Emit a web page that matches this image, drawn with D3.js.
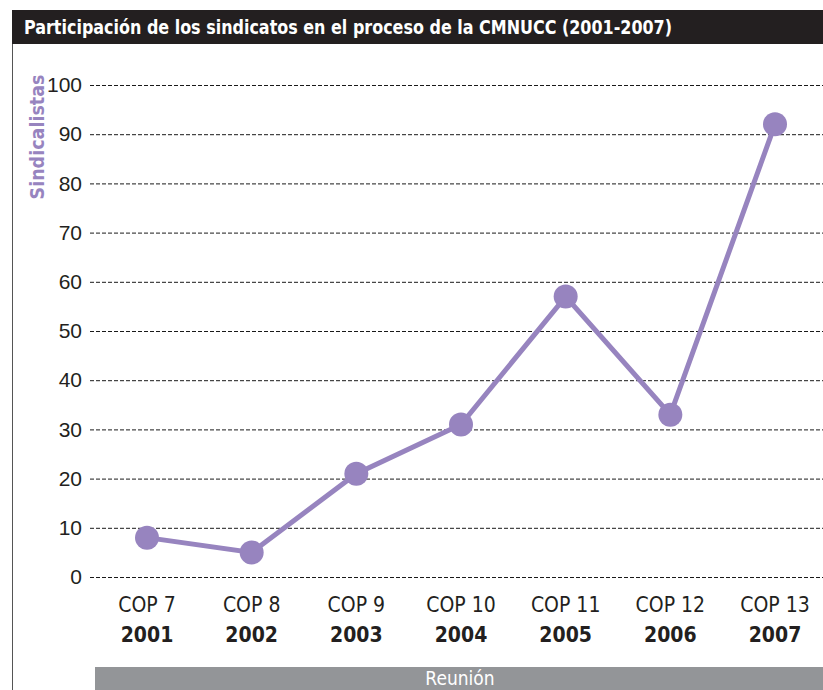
<!DOCTYPE html>
<html><head><meta charset="utf-8">
<script src="https://cdn.jsdelivr.net/npm/d3@7"></script>
<style>
body{margin:0;background:#fff;}
svg{display:block;}
.cond{font-family:"Liberation Sans Narrow","DejaVu Sans Condensed","Roboto Condensed","DejaVu Sans",sans-serif;font-stretch:condensed;}
</style></head>
<body>
<svg id="chart" width="823" height="690" class="cond"></svg>
<script>
const cops = ["COP 7","COP 8","COP 9","COP 10","COP 11","COP 12","COP 13"];
const years = ["2001","2002","2003","2004","2005","2006","2007"];
const sindicalistas = [8, 5, 21, 31, 57, 33, 92];
const yTicks = [0,10,20,30,40,50,60,70,80,90,100];
const title = "Participación de los sindicatos en el proceso de la CMNUCC (2001-2007)";
const yTitle = "Sindicalistas";
const xTitle = "Reunión";

const svg = d3.select("#chart");
const purple = "#9784bf";

// frame
svg.append("rect").attr("x",12).attr("y",10).attr("width",811).attr("height",34).attr("fill","#231f20");
svg.append("text").attr("x",24).attr("y",34).attr("fill","#fff").attr("font-size",19).attr("font-weight","bold")
  .attr("textLength",648).attr("lengthAdjust","spacingAndGlyphs").text(title);
svg.append("line").attr("x1",12.5).attr("x2",12.5).attr("y1",44).attr("y2",690).attr("stroke","#555").attr("stroke-width",1);

const x = d3.scalePoint().domain(cops).range([147,775]);
const y = d3.scaleLinear().domain([0,100]).range([577,85]);

// grid + y labels
const yAxis = d3.axisLeft(y).tickValues(yTicks).tickSize(-733).tickPadding(8);
const gy = svg.append("g").attr("transform","translate(90,0)").call(yAxis);
gy.select(".domain").remove();
gy.selectAll(".tick line").attr("stroke","#1a1a1a").attr("stroke-dasharray","4,2").attr("stroke-width",1);
gy.selectAll(".tick text").attr("font-size",21).attr("fill","#231f20").attr("font-family",null);

// y title
svg.append("text").attr("transform","translate(44,137) rotate(-90)").attr("text-anchor","middle")
  .attr("fill",purple).attr("font-size",20).attr("font-weight","bold")
  .attr("textLength",125).attr("lengthAdjust","spacingAndGlyphs").text(yTitle);

// x labels
const gx = svg.append("g");
gx.selectAll("text.cop").data(cops).join("text").attr("class","cop")
  .attr("x",d=>x(d)).attr("y",612).attr("text-anchor","middle").attr("font-size",21).attr("fill","#231f20").text(d=>d);
gx.selectAll("text.yr").data(years).join("text").attr("class","yr")
  .attr("x",(d,i)=>x(cops[i])).attr("y",642).attr("text-anchor","middle").attr("font-size",21).attr("font-weight","bold").attr("fill","#231f20").text(d=>d);

// x title bar
svg.append("rect").attr("x",95).attr("y",667).attr("width",728).attr("height",23).attr("fill","#939598");
svg.append("text").attr("x",460).attr("y",685).attr("text-anchor","middle").attr("fill","#fff").attr("font-size",19).text(xTitle);

// line
const data = cops.map((c,i)=>({c, v: sindicalistas[i]}));
svg.append("path").datum(data).attr("fill","none").attr("stroke",purple).attr("stroke-width",5)
  .attr("d", d3.line().x(d=>x(d.c)).y(d=>y(d.v)));
svg.selectAll("circle.pt").data(data).join("circle").attr("class","pt")
  .attr("cx",d=>x(d.c)).attr("cy",d=>y(d.v)).attr("r",12).attr("fill",purple);
</script>
</body></html>
